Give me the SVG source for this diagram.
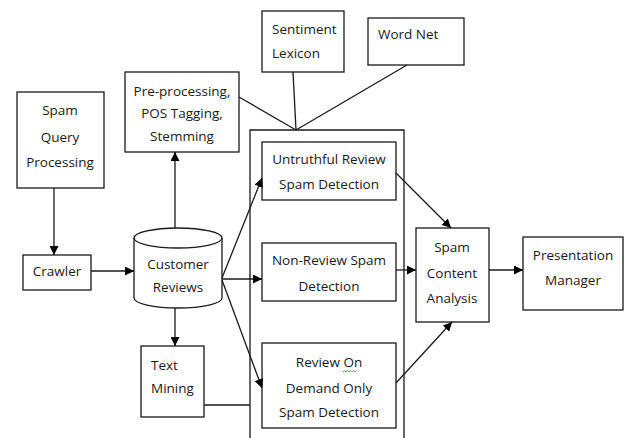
<svg xmlns="http://www.w3.org/2000/svg" width="625" height="438" viewBox="0 0 625 438">
  <style>
    .box { fill: #fff; stroke: #1a1a1a; stroke-width: 1.3; }
    .ln { fill: none; stroke: #1a1a1a; stroke-width: 1.3; }
    .t { font-family: "Open Sans", "Liberation Sans", sans-serif; font-size: 13.5px; fill: #1a1a1a; }
    .c { text-anchor: middle; }
  </style>
  <defs>
    <marker id="arrow" viewBox="0 0 10 10" refX="10" refY="5" markerWidth="9" markerHeight="9" markerUnits="userSpaceOnUse" orient="auto">
      <path d="M0,0 L10,5 L0,10 Z" fill="#000"/>
    </marker>
  </defs>
  <rect width="625" height="438" fill="#fff"/>

  <!-- detection module container -->
  <g id="detection-module">
    <path class="ln" d="M250,438 V130 H404 V438"/>
  </g>

  <g id="spam-query">
    <rect class="box" x="17" y="92" width="87" height="96"/>
    <text class="t c" x="60" y="115">Spam</text>
    <text class="t c" x="60" y="142">Query</text>
    <text class="t c" x="60" y="167">Processing</text>
  </g>

  <g id="preprocessing">
    <rect class="box" x="125" y="72" width="114" height="80"/>
    <text class="t c" x="182" y="96">Pre-processing,</text>
    <text class="t c" x="182" y="118">POS Tagging,</text>
    <text class="t c" x="182" y="141">Stemming</text>
  </g>

  <g id="sentiment-lexicon">
    <rect class="box" x="262" y="11" width="82" height="61"/>
    <text class="t" x="272" y="34">Sentiment</text>
    <text class="t" x="272" y="58">Lexicon</text>
  </g>

  <g id="word-net">
    <rect class="box" x="368" y="18" width="96" height="47"/>
    <text class="t" x="378" y="39">Word Net</text>
  </g>

  <g id="crawler">
    <rect class="box" x="23" y="255" width="68" height="35"/>
    <text class="t c" x="57" y="276">Crawler</text>
  </g>

  <g id="customer-reviews">
    <path class="box" d="M134,238 V298 A44,10 0 0 0 222,298 V238"/>
    <ellipse class="box" cx="178" cy="238" rx="44" ry="10"/>
    <text class="t c" x="178" y="269">Customer</text>
    <text class="t c" x="178" y="292">Reviews</text>
  </g>

  <g id="text-mining">
    <rect class="box" x="141" y="346" width="63" height="71"/>
    <text class="t" x="151" y="370">Text</text>
    <text class="t" x="151" y="393">Mining</text>
  </g>

  <g id="untruthful">
    <rect class="box" x="262" y="142" width="134" height="58"/>
    <text class="t c" x="329" y="164">Untruthful Review</text>
    <text class="t c" x="329" y="189">Spam Detection</text>
  </g>

  <g id="non-review">
    <rect class="box" x="262" y="243" width="134" height="58"/>
    <text class="t c" x="329" y="265">Non-Review Spam</text>
    <text class="t c" x="329" y="291">Detection</text>
  </g>

  <g id="review-on-demand">
    <rect class="box" x="262" y="343" width="134" height="85"/>
    <text class="t c" x="329" y="367">Review On</text>
    <text class="t c" x="329" y="393">Demand Only</text>
    <text class="t c" x="329" y="417">Spam Detection</text>
    <path d="M343,372 l1.5,-1.5 l1.5,1.5 l1.5,-1.5 l1.5,1.5 l1.5,-1.5 l1.5,1.5 l1.5,-1.5 l1.5,1.5 l1.5,-1.5" fill="none" stroke="#3a9a3a" stroke-width="0.8"/>
  </g>

  <g id="spam-content-analysis">
    <rect class="box" x="416" y="228" width="73" height="94"/>
    <text class="t c" x="452" y="252">Spam</text>
    <text class="t c" x="452" y="278">Content</text>
    <text class="t c" x="452" y="303">Analysis</text>
  </g>

  <g id="presentation-manager">
    <rect class="box" x="523" y="237" width="100" height="73"/>
    <text class="t c" x="573" y="260">Presentation</text>
    <text class="t c" x="573" y="285">Manager</text>
  </g>

  <g id="connectors">
    <!-- resources feeding the detection module -->
    <line class="ln" x1="239" y1="97" x2="296" y2="130"/>
    <line class="ln" x1="293" y1="72" x2="296" y2="130"/>
    <line class="ln" x1="407" y1="65" x2="296" y2="130"/>
    <!-- data flow -->
    <line class="ln" x1="54" y1="188" x2="54" y2="255" marker-end="url(#arrow)"/>
    <line class="ln" x1="91" y1="271" x2="134" y2="271" marker-end="url(#arrow)"/>
    <line class="ln" x1="175" y1="228" x2="175" y2="152" marker-end="url(#arrow)"/>
    <line class="ln" x1="175" y1="308" x2="175" y2="346" marker-end="url(#arrow)"/>
    <line class="ln" x1="204" y1="405" x2="250" y2="405"/>
    <line class="ln" x1="222" y1="278" x2="262" y2="178" marker-end="url(#arrow)"/>
    <line class="ln" x1="222" y1="279" x2="262" y2="279" marker-end="url(#arrow)"/>
    <line class="ln" x1="222" y1="280" x2="262" y2="388" marker-end="url(#arrow)"/>
    <line class="ln" x1="396" y1="173" x2="451" y2="228" marker-end="url(#arrow)"/>
    <line class="ln" x1="396" y1="270" x2="416" y2="270" marker-end="url(#arrow)"/>
    <line class="ln" x1="396" y1="383" x2="452" y2="322" marker-end="url(#arrow)"/>
    <line class="ln" x1="489" y1="270" x2="523" y2="270" marker-end="url(#arrow)"/>
  </g>
</svg>
